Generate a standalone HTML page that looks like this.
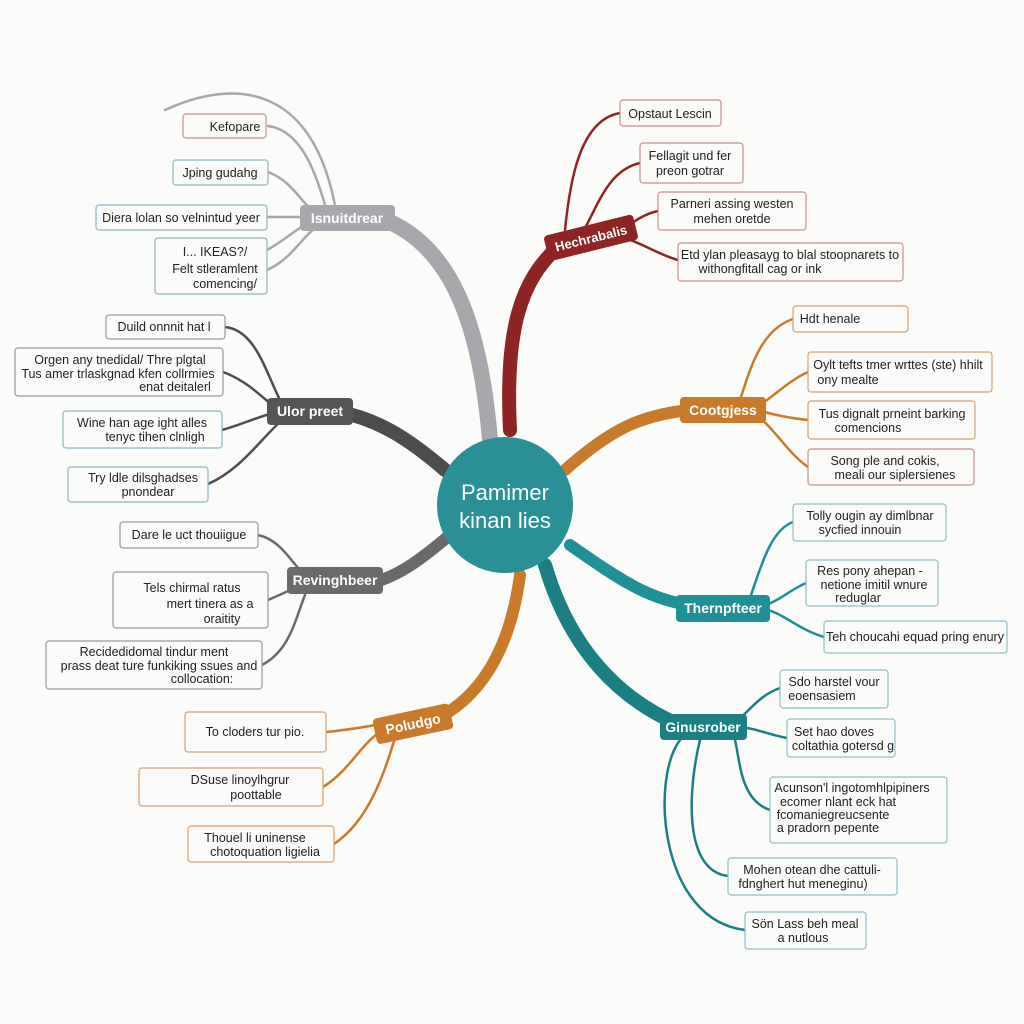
<!DOCTYPE html>
<html><head><meta charset="utf-8"><style>
html,body{margin:0;padding:0;background:#fbfbf9}
svg{display:block}
text{font-family:"Liberation Sans",sans-serif}
.lf{font-size:12.5px;fill:#222}
.bx{fill:#fbfbf9;stroke-width:1.2}
</style></head><body>
<svg width="1024" height="1024" viewBox="0 0 1024 1024">
<rect width="1024" height="1024" fill="#fbfbf9"/>
<g fill="none" stroke-linecap="round">
<!-- main branches -->
<path d="M490 440 C480 320 450 250 390 222" stroke="#a6a8ab" stroke-width="16"/>
<path d="M510 430 C505 330 520 280 560 245" stroke="#8e2424" stroke-width="14"/>
<path d="M565 470 C610 430 640 415 690 410" stroke="#c97a2a" stroke-width="12"/>
<path d="M570 545 C620 580 650 600 690 605" stroke="#1f8f98" stroke-width="12"/>
<path d="M545 565 C570 650 620 700 680 725" stroke="#1b7f84" stroke-width="14"/>
<path d="M520 575 C510 650 480 700 430 722" stroke="#c97a2a" stroke-width="12"/>
<path d="M450 535 C420 560 400 575 375 582" stroke="#6a6a6a" stroke-width="12"/>
<path d="M445 470 C410 440 380 420 340 412" stroke="#4d4d4d" stroke-width="14"/>
<!-- grey leaves -->
<g stroke="#a6a8ab" stroke-width="2.5">
<path d="M165 110 C230 80 310 80 335 205"/>
<path d="M268 126 C300 130 315 170 325 205"/>
<path d="M268 172 C290 180 300 200 310 208"/>
<path d="M267 217 C280 217 290 217 300 217"/>
<path d="M267 250 C285 240 295 230 305 225"/>
<path d="M267 270 C290 260 300 240 315 228"/>
</g>
<g stroke="#8e2424" stroke-width="2.5">
<path d="M620 113 C580 120 570 180 565 230"/>
<path d="M640 163 C610 170 600 200 585 228"/>
<path d="M658 211 C640 215 630 225 620 232"/>
<path d="M678 260 C660 255 645 245 630 240"/>
</g>
<g stroke="#c97a2a" stroke-width="2.5">
<path d="M793 319 C760 330 750 370 740 400"/>
<path d="M808 372 C790 380 775 395 760 405"/>
<path d="M808 420 C790 418 775 415 765 412"/>
<path d="M808 467 C790 455 775 430 760 418"/>
</g>
<g stroke="#1f8f98" stroke-width="2.5">
<path d="M793 522 C770 530 760 570 750 598"/>
<path d="M806 583 C790 590 780 600 768 604"/>
<path d="M824 637 C800 630 785 615 768 610"/>
</g>
<g stroke="#1b7f84" stroke-width="2.5">
<path d="M780 688 C760 695 750 710 740 718"/>
<path d="M787 738 C770 735 760 730 747 728"/>
<path d="M770 810 C740 800 740 760 735 740"/>
<path d="M728 876 C680 870 690 780 700 740"/>
<path d="M745 930 C660 920 650 780 680 740"/>
</g>
<g stroke="#c97a2a" stroke-width="2.5">
<path d="M326 732 C345 730 360 728 375 725"/>
<path d="M323 787 C350 770 360 745 380 732"/>
<path d="M334 844 C370 820 385 770 395 738"/>
</g>
<g stroke="#6a6a6a" stroke-width="2.5">
<path d="M258 535 C280 540 290 560 300 570"/>
<path d="M268 600 C280 595 290 590 295 588"/>
<path d="M262 665 C290 650 295 620 305 595"/>
</g>
<g stroke="#4d4d4d" stroke-width="2.5">
<path d="M225 327 C255 330 265 370 280 400"/>
<path d="M223 372 C245 380 260 395 272 405"/>
<path d="M222 430 C240 425 255 418 270 414"/>
<path d="M208 484 C240 470 260 440 280 422"/>
</g>
</g>
<!-- center -->
<circle cx="505" cy="505" r="68" fill="#2a8f96"/>
<text x="505" y="500" text-anchor="middle" font-size="22" fill="#fff">Pamimer</text>
<text x="505" y="528" text-anchor="middle" font-size="22" fill="#fff">kinan lies</text>
<!-- branch labels -->
<rect x="300" y="205" width="95" height="26" rx="4" fill="#a6a8ab"/><text x="347" y="223" text-anchor="middle" font-size="14" font-weight="bold" fill="#fff">Isnuitdrear</text>
<g transform="rotate(-14 590 238)"><rect x="545" y="225" width="92" height="26" rx="4" fill="#8e2424"/><text x="591" y="243" text-anchor="middle" font-size="13" font-weight="bold" fill="#fff">Hechrabalis</text></g>
<rect x="680" y="397" width="86" height="26" rx="4" fill="#c97a2a"/><text x="723" y="415" text-anchor="middle" font-size="14" font-weight="bold" fill="#fff">Cootgjess</text>
<rect x="676" y="595" width="94" height="27" rx="4" fill="#1f8f98"/><text x="723" y="613" text-anchor="middle" font-size="14" font-weight="bold" fill="#fff">Thernpfteer</text>
<rect x="660" y="714" width="87" height="26" rx="4" fill="#1b7f84"/><text x="703" y="732" text-anchor="middle" font-size="14" font-weight="bold" fill="#fff">Ginusrober</text>
<g transform="rotate(-12 412 724)"><rect x="374" y="711" width="78" height="26" rx="4" fill="#c97a2a"/><text x="413" y="729" text-anchor="middle" font-size="14" font-weight="bold" fill="#fff">Poludgo</text></g>
<rect x="287" y="567" width="96" height="27" rx="4" fill="#6a6a6a"/><text x="335" y="585" text-anchor="middle" font-size="14" font-weight="bold" fill="#fff">Revinghbeer</text>
<rect x="267" y="398" width="86" height="27" rx="4" fill="#555"/><text x="310" y="416" text-anchor="middle" font-size="14" font-weight="bold" fill="#fff">Ulor preet</text>
<!-- leaves -->
<g class="lf">
<rect class="bx" stroke="#c89090" x="183" y="114" width="83" height="24" rx="3"/><text x="235" y="131" text-anchor="middle">Kefopare</text>
<rect class="bx" stroke="#8fb7c0" x="173" y="160" width="95" height="25" rx="3"/><text x="220" y="177" text-anchor="middle">Jping gudahg</text>
<rect class="bx" stroke="#8fb7c0" x="96" y="205" width="171" height="25" rx="3"/><text x="181" y="222" text-anchor="middle">Diera lolan so velnintud yeer</text>
<rect class="bx" stroke="#8fb7c0" x="155" y="238" width="112" height="56" rx="3"/><text x="215" y="256" text-anchor="middle">I... IKEAS?/</text><text x="215" y="273" text-anchor="middle">Felt stleramlent</text><text x="225" y="288" text-anchor="middle">comencing/</text>
<rect class="bx" stroke="#c89090" x="620" y="100" width="101" height="26" rx="3"/><text x="670" y="118" text-anchor="middle">Opstaut Lescin</text>
<rect class="bx" stroke="#c89090" x="640" y="143" width="103" height="40" rx="3"/><text x="690" y="160" text-anchor="middle">Fellagit und fer</text><text x="690" y="175" text-anchor="middle">preon gotrar</text>
<rect class="bx" stroke="#c89090" x="658" y="192" width="148" height="38" rx="3"/><text x="732" y="208" text-anchor="middle">Parneri assing westen</text><text x="732" y="223" text-anchor="middle">mehen oretde</text>
<rect class="bx" stroke="#c89090" x="678" y="243" width="225" height="38" rx="3"/><text x="790" y="259" text-anchor="middle">Etd ylan pleasayg to blal stoopnarets to</text><text x="760" y="273" text-anchor="middle">withongfitall cag or ink</text>
<rect class="bx" stroke="#d8a070" x="793" y="306" width="115" height="26" rx="3"/><text x="830" y="323" text-anchor="middle">Hdt henale</text>
<rect class="bx" stroke="#d8a070" x="808" y="352" width="184" height="40" rx="3"/><text x="898" y="369" text-anchor="middle">Oylt tefts tmer wrttes (ste) hhilt</text><text x="848" y="384" text-anchor="middle">ony mealte</text>
<rect class="bx" stroke="#d8a070" x="808" y="401" width="167" height="38" rx="3"/><text x="892" y="418" text-anchor="middle">Tus dignalt prneint barking</text><text x="868" y="432" text-anchor="middle">comencions</text>
<rect class="bx" stroke="#c89090" x="808" y="449" width="166" height="36" rx="3"/><text x="885" y="465" text-anchor="middle">Song ple and cokis,</text><text x="895" y="479" text-anchor="middle">meali our siplersienes</text>
<rect class="bx" stroke="#8fc0c8" x="793" y="504" width="153" height="37" rx="3"/><text x="870" y="520" text-anchor="middle">Tolly ougin ay dimlbnar</text><text x="860" y="534" text-anchor="middle">sycfied innouin</text>
<rect class="bx" stroke="#8fc0c8" x="806" y="560" width="132" height="46" rx="3"/><text x="870" y="575" text-anchor="middle">Res pony ahepan -</text><text x="874" y="589" text-anchor="middle">netione imitil wnure</text><text x="858" y="602" text-anchor="middle">reduglar</text>
<rect class="bx" stroke="#8fc0c8" x="824" y="621" width="183" height="32" rx="3"/><text x="915" y="641" text-anchor="middle">Teh choucahi equad pring enury</text>
<rect class="bx" stroke="#8fc0c8" x="780" y="670" width="108" height="38" rx="3"/><text x="834" y="686" text-anchor="middle">Sdo harstel vour</text><text x="822" y="700" text-anchor="middle">eoensasiem</text>
<rect class="bx" stroke="#8fc0c8" x="787" y="719" width="108" height="38" rx="3"/><text x="834" y="736" text-anchor="middle">Set hao doves</text><text x="843" y="750" text-anchor="middle">coltathia gotersd g</text>
<rect class="bx" stroke="#8fc0c8" x="770" y="777" width="177" height="66" rx="3"/><text x="852" y="792" text-anchor="middle">Acunson'l ingotomhlpipiners</text><text x="838" y="806" text-anchor="middle">ecomer nlant eck hat</text><text x="833" y="819" text-anchor="middle">fcomaniegreucsente</text><text x="828" y="832" text-anchor="middle">a pradorn pepente</text>
<rect class="bx" stroke="#8fc0c8" x="728" y="858" width="169" height="37" rx="3"/><text x="812" y="874" text-anchor="middle">Mohen otean dhe cattuli-</text><text x="803" y="888" text-anchor="middle">fdnghert hut meneginu)</text>
<rect class="bx" stroke="#8fc0c8" x="745" y="912" width="121" height="37" rx="3"/><text x="805" y="928" text-anchor="middle">Sön Lass beh meal</text><text x="803" y="942" text-anchor="middle">a nutlous</text>
<rect class="bx" stroke="#d8a070" x="185" y="712" width="141" height="40" rx="3"/><text x="255" y="736" text-anchor="middle">To cloders tur pio.</text>
<rect class="bx" stroke="#d8a070" x="139" y="768" width="184" height="38" rx="3"/><text x="240" y="784" text-anchor="middle">DSuse linoylhgrur</text><text x="256" y="799" text-anchor="middle">poottable</text>
<rect class="bx" stroke="#d8a070" x="188" y="826" width="146" height="36" rx="3"/><text x="255" y="842" text-anchor="middle">Thouel li uninense</text><text x="265" y="856" text-anchor="middle">chotoquation ligielia</text>
<rect class="bx" stroke="#999" x="120" y="522" width="138" height="26" rx="3"/><text x="189" y="539" text-anchor="middle">Dare le uct thouiigue</text>
<rect class="bx" stroke="#999" x="113" y="572" width="155" height="56" rx="3"/><text x="192" y="592" text-anchor="middle">Tels chirmal ratus</text><text x="210" y="608" text-anchor="middle">mert tinera as a</text><text x="222" y="623" text-anchor="middle">oraitity</text>
<rect class="bx" stroke="#999" x="46" y="641" width="216" height="48" rx="3"/><text x="154" y="656" text-anchor="middle">Recidedidomal tindur ment</text><text x="159" y="670" text-anchor="middle">prass deat ture funkiking ssues and</text><text x="202" y="683" text-anchor="middle">collocation:</text>
<rect class="bx" stroke="#999" x="106" y="315" width="119" height="24" rx="3"/><text x="164" y="331" text-anchor="middle">Duild onnnit hat l</text>
<rect class="bx" stroke="#999" x="15" y="348" width="208" height="48" rx="3"/><text x="120" y="364" text-anchor="middle">Orgen any tnedidal/ Thre plgtal</text><text x="118" y="378" text-anchor="middle">Tus amer trlaskgnad kfen collrmies</text><text x="175" y="391" text-anchor="middle">enat deitalerl</text>
<rect class="bx" stroke="#8fb7c0" x="63" y="411" width="159" height="37" rx="3"/><text x="142" y="427" text-anchor="middle">Wine han age ight alles</text><text x="155" y="441" text-anchor="middle">tenyc tihen clnligh</text>
<rect class="bx" stroke="#8fb7c0" x="68" y="467" width="140" height="35" rx="3"/><text x="143" y="482" text-anchor="middle">Try ldle dilsghadses</text><text x="148" y="496" text-anchor="middle">pnondear</text>
</g>
</svg>
</body></html>
